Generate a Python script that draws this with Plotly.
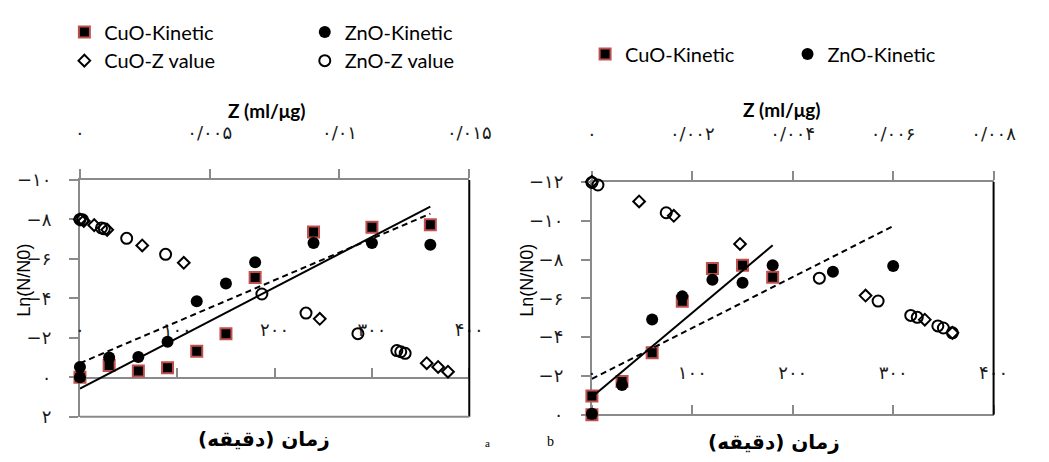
import plotly.graph_objects as go

W, H = 1049, 462

# ---------------- data: panel a ----------------
t_cuo_a = [0, 30, 60, 90, 120, 150, 180, 240, 300, 360]
ln_cuo_a = [0.0, -0.59, -0.32, -0.48, -1.32, -2.21, -5.06, -7.36, -7.60, -7.73]
t_zno_a = [0, 0, 30, 60, 90, 120, 150, 180, 240, 300, 360]
ln_zno_a = [0.0, -0.52, -1.00, -1.03, -1.80, -3.85, -4.75, -5.83, -6.80, -6.80, -6.71]
z_cuo_a = [0.0, 0.00015, 0.00055, 0.00105, 0.0024, 0.0040, 0.00924, 0.01336, 0.0138, 0.01418]
lnz_cuo_a = [-8.0, -7.92, -7.71, -7.47, -6.68, -5.80, -2.96, -0.71, -0.52, -0.28]
z_zno_a = [0.0, 0.0001, 0.00083, 0.00094, 0.0018, 0.0033, 0.00701, 0.00871, 0.01071, 0.01221, 0.01236, 0.01253]
lnz_zno_a = [-8.0, -7.98, -7.57, -7.52, -7.04, -6.23, -4.22, -3.25, -2.21, -1.35, -1.29, -1.21]
trend_t_cuo_a = [0, 360]
trend_ln_cuo_a = [0.58, -8.65]
trend_t_zno_a = [0, 360]
trend_ln_zno_a = [-0.71, -8.29]

# ---------------- data: panel b ----------------
t_cuo_b = [0, 0, 30, 60, 90, 120, 150, 180]
ln_cuo_b = [0.0, -0.97, -1.71, -3.19, -5.85, -7.54, -7.70, -7.08]
t_zno_b = [0, 30, 60, 90, 120, 150, 180, 240, 300]
ln_zno_b = [-0.05, -1.54, -4.91, -6.10, -6.96, -6.80, -7.70, -7.37, -7.67]
z_cuo_b = [0.0, 0.00094, 0.00163, 0.00295, 0.00545, 0.00663, 0.00718]
lnz_cuo_b = [-12.0, -10.99, -10.25, -8.80, -6.14, -4.90, -4.22]
z_zno_b = [0.0, 0.00012, 0.00148, 0.00453, 0.00570, 0.00635, 0.00648, 0.00689, 0.00700, 0.00718]
lnz_zno_b = [-11.97, -11.84, -10.41, -7.04, -5.86, -5.12, -5.02, -4.58, -4.47, -4.22]
trend_t_cuo_b = [0, 180]
trend_ln_cuo_b = [-0.92, -8.73]
trend_t_zno_b = [0, 300]
trend_ln_zno_b = [-1.85, -9.72]

# ---------------- tick labels ----------------
time_ticks = [0, 100, 200, 300, 400]
time_labels = ["۰", "۱۰۰", "۲۰۰", "۳۰۰", "۴۰۰"]
z_ticks_a = [0, 0.005, 0.01, 0.015]
z_labels_a = ["۰", "۰/۰۰۵", "۰/۰۱", "۰/۰۱۵"]
z_ticks_b = [0, 0.002, 0.004, 0.006, 0.008]
z_labels_b = ["۰", "۰/۰۰۲", "۰/۰۰۴", "۰/۰۰۶", "۰/۰۰۸"]
y_ticks_a = [-10, -8, -6, -4, -2, 0, 2]
y_labels_a = ["−۱۰", "−۸", "−۶", "−۴", "−۲", "۰", "۲"]
y_ticks_b = [-12, -10, -8, -6, -4, -2, 0]
y_labels_b = ["−۱۲", "−۱۰", "−۸", "−۶", "−۴", "−۲", "۰"]

GRAY = "#8a8a8a"
RED = "#C0504D"
TICKFONT = dict(family="DejaVu Sans", size=18, color="#1a1a1a")
LEGFONT = dict(family="Lato", size=20, color="black")

sq = dict(symbol="square", size=11, color="black", line=dict(color=RED, width=2))
dot = dict(symbol="circle", size=12, color="black")
dia = dict(symbol="diamond-open", size=9, color="black", line=dict(color="black", width=2))
ring = dict(symbol="circle-open", size=11, color="black", line=dict(color="black", width=2))

fig = go.Figure()

# panel a
fig.add_trace(go.Scatter(x=t_cuo_a, y=ln_cuo_a, mode="markers", marker=sq, name="CuO-Kinetic",
                         xaxis="x", yaxis="y", legend="legend", cliponaxis=False))
fig.add_trace(go.Scatter(x=t_zno_a, y=ln_zno_a, mode="markers", marker=dot, name="ZnO-Kinetic",
                         xaxis="x", yaxis="y", legend="legend3", cliponaxis=False))
fig.add_trace(go.Scatter(x=z_cuo_a, y=lnz_cuo_a, mode="markers", marker=dia, name="CuO-Z value",
                         xaxis="x2", yaxis="y", legend="legend2", cliponaxis=False))
fig.add_trace(go.Scatter(x=z_zno_a, y=lnz_zno_a, mode="markers", marker=ring, name="ZnO-Z value",
                         xaxis="x2", yaxis="y", legend="legend4", cliponaxis=False))
fig.add_trace(go.Scatter(x=trend_t_cuo_a, y=trend_ln_cuo_a, mode="lines", showlegend=False,
                         line=dict(color="black", width=2), xaxis="x", yaxis="y", cliponaxis=False))
fig.add_trace(go.Scatter(x=trend_t_zno_a, y=trend_ln_zno_a, mode="lines", showlegend=False,
                         line=dict(color="black", width=2, dash="6px,4px"), xaxis="x", yaxis="y",
                         cliponaxis=False))

# panel b
fig.add_trace(go.Scatter(x=t_cuo_b, y=ln_cuo_b, mode="markers", marker=sq, name="CuO-Kinetic",
                         xaxis="x3", yaxis="y2", legend="legend5", cliponaxis=False))
fig.add_trace(go.Scatter(x=t_zno_b, y=ln_zno_b, mode="markers", marker=dot, name="ZnO-Kinetic",
                         xaxis="x3", yaxis="y2", legend="legend6", cliponaxis=False))
fig.add_trace(go.Scatter(x=z_cuo_b, y=lnz_cuo_b, mode="markers", marker=dia, name="CuO-Z value",
                         xaxis="x4", yaxis="y2", showlegend=False, cliponaxis=False))
fig.add_trace(go.Scatter(x=z_zno_b, y=lnz_zno_b, mode="markers", marker=ring, name="ZnO-Z value",
                         xaxis="x4", yaxis="y2", showlegend=False, cliponaxis=False))
fig.add_trace(go.Scatter(x=trend_t_cuo_b, y=trend_ln_cuo_b, mode="lines", showlegend=False,
                         line=dict(color="black", width=2), xaxis="x3", yaxis="y2", cliponaxis=False))
fig.add_trace(go.Scatter(x=trend_t_zno_b, y=trend_ln_zno_b, mode="lines", showlegend=False,
                         line=dict(color="black", width=2, dash="6px,4px"), xaxis="x3", yaxis="y2",
                         cliponaxis=False))

axcommon = dict(showline=True, linecolor=GRAY, linewidth=2, ticks="outside", ticklen=9,
                tickwidth=2, tickcolor=GRAY, showgrid=False, zeroline=False, tickfont=TICKFONT,
                layer="below traces")

dom_ax = [77 / W, 477 / W]
dom_ay = [1 - 425 / H, 1 - 177 / H]
dom_bx = [603 / W, 1015.7 / W]
dom_by = [1 - 423 / H, 1 - 179 / H]

fig.update_layout(
    width=W, height=H, margin=dict(l=0, r=0, t=0, b=0),
    paper_bgcolor="white", plot_bgcolor="white",
    xaxis=dict(domain=dom_ax, range=[0, 400], anchor="free", position=1 - 384 / H, side="top",
               tickvals=time_ticks, ticktext=time_labels, ticklabelstandoff=24, **axcommon),
    xaxis2=dict(overlaying="x", anchor="y", side="top", range=[0, 0.015],
                tickvals=z_ticks_a, ticktext=z_labels_a, ticklabelstandoff=23, **axcommon),
    yaxis=dict(domain=dom_ay, anchor="x", range=[2, -10], tickvals=y_ticks_a, ticktext=y_labels_a,
               ticklabelstandoff=14, **axcommon),
    xaxis3=dict(domain=dom_bx, range=[0, 400], anchor="free", position=1 - 423 / H, side="top",
                tickvals=time_ticks, ticktext=time_labels, ticklabelstandoff=19, **axcommon),
    xaxis4=dict(overlaying="x3", anchor="y2", side="top", range=[0, 0.008],
                tickvals=z_ticks_b, ticktext=z_labels_b, ticklabelstandoff=24, **axcommon),
    yaxis2=dict(domain=dom_by, anchor="x3", range=[0, -12], tickvals=y_ticks_b, ticktext=y_labels_b,
                ticklabelstandoff=14, **axcommon),
    showlegend=True,
)

def leg(xpx, ypx):
    return dict(x=(xpx - 20) / W, y=1 - ypx / H, xanchor="left", yanchor="middle",
                font=LEGFONT, bgcolor="rgba(0,0,0,0)", orientation="v")

fig.update_layout(
    legend=leg(81, 22), legend2=leg(81, 52), legend3=leg(328, 22), legend4=leg(328, 52),
    legend5=leg(616, 45), legend6=leg(824, 45),
)

# frame lines
fig.add_shape(type="line", xref="x domain", yref="y domain", x0=1, x1=1, y0=0, y1=1,
              line=dict(color="black", width=2))
fig.add_shape(type="line", xref="x domain", yref="y domain", x0=0, x1=1, y0=0, y1=0,
              line=dict(color=GRAY, width=2))
fig.add_shape(type="line", xref="x3 domain", yref="y2 domain", x0=1, x1=1, y0=0, y1=1,
              line=dict(color="black", width=2))

def ann(text, xpx, ypx, font, angle=0):
    fig.add_annotation(text=text, x=xpx / W, y=1 - ypx / H, xref="paper", yref="paper",
                       xanchor="center", yanchor="middle", showarrow=False, font=font,
                       textangle=angle)

ZT = dict(family="Lato", size=19, color="black", weight="bold")
TT = dict(family="DejaVu Sans", size=20, color="black", weight="bold")
YT = dict(family="Liberation Sans", size=18, color="black")
ann("Z (ml/μg)", 269, 104, ZT)
ann("Z (ml/μg)", 798, 103, ZT)
ann("\u200fزمان (دقیقه)\u200f", 266, 448, TT)
ann("\u200fزمان (دقیقه)\u200f", 790, 451, TT)
ann("Ln(N/N0)", 20, 282, YT, -90)
ann("Ln(N/N0)", 536, 282, YT, -90)
ann("b", 560, 451, dict(family="Liberation Serif", size=14, color="black"))
ann("a", 496, 453, dict(family="Liberation Serif", size=11, color="black"))

fig.write_html("out.html", config={"displayModeBar": False},
               post_script="document.body.style.margin='0px';")
